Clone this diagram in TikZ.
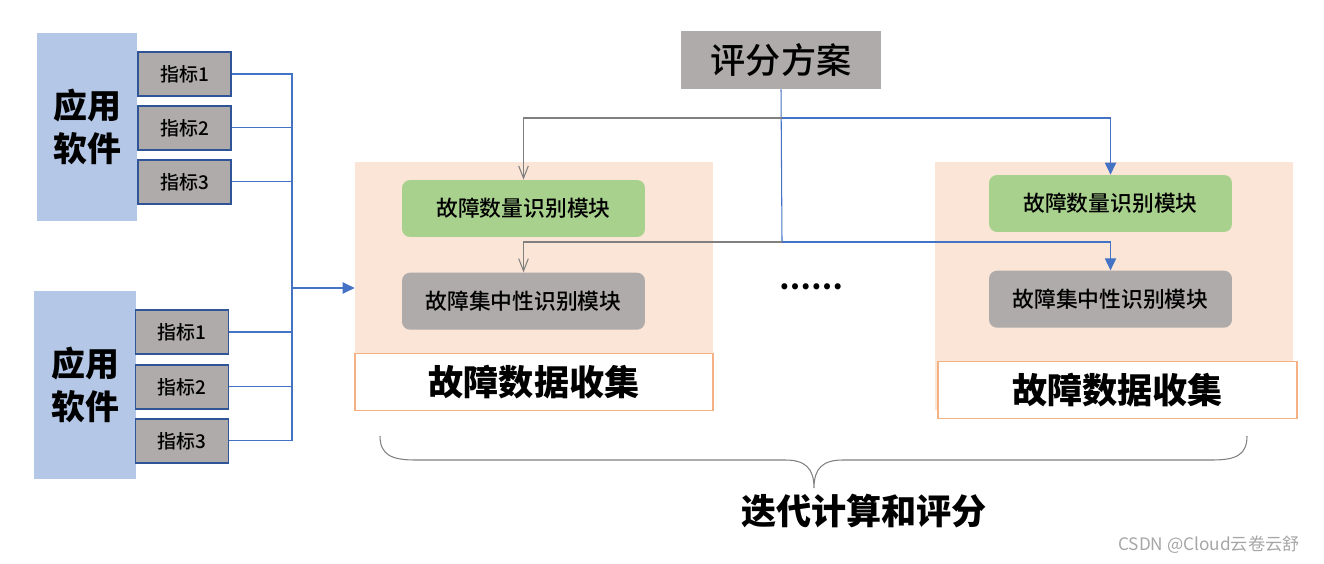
\documentclass[tikz,border=0pt]{standalone}
\usepackage{fontspec}
\setmainfont{Noto Sans CJK SC}
\newfontfamily\medfont{Noto Sans CJK SC Medium}
\usepackage{tikz}
\usetikzlibrary{positioning, arrows.meta}
\definecolor{appblue}{HTML}{B4C7E7}
\definecolor{boxgray}{HTML}{AFABAB}
\definecolor{indborder}{HTML}{2F5597}
\definecolor{linkblue}{HTML}{4472C4}
\definecolor{panelorange}{HTML}{FBE5D6}
\definecolor{edgeorange}{HTML}{F4B183}
\definecolor{modgreen}{HTML}{A9D18E}
\tikzset{
  app/.style={fill=appblue, minimum width=2cm, minimum height=3.76cm, align=center,
    font=\fontsize{19.3}{24.4}\selectfont\bfseries},
  ind/.style={draw=indborder, line width=1.1pt, fill=boxgray, minimum width=1.86cm,
    minimum height=0.88cm, font=\fontsize{10.8}{13}\selectfont\medfont},
  panel/.style={fill=panelorange, minimum width=7.16cm},
  collect/.style={draw=edgeorange, line width=0.85pt, fill=white, minimum width=7.16cm,
    minimum height=1.14cm, font=\fontsize{20}{24}\selectfont\bfseries},
  module/.style={rounded corners=0.16cm, minimum width=4.86cm, minimum height=1.14cm,
    font=\fontsize{12.4}{15}\selectfont\medfont},
  link/.style={draw=linkblue, line width=0.6pt},
  bluearrow/.style={link, -{Triangle[length=6.8pt, width=6.4pt]}},
  grayarrow/.style={draw=gray, line width=0.6pt, -{Straight Barb[length=7pt, width=5.5pt]}}
}

\begin{document}
\begin{tikzpicture}[x=0.02cm, y=-0.02cm]
\useasboundingbox (0,0) rectangle (1324,564);

% applications and indicators
\node[app] (app1) at (87,127) {应用\\软件};
\node[app, minimum width=2.04cm] (app2) at (85,385) {应用\\软件};
\node[ind] (i11) at (184.5,74) {指标1};
\node[ind, below=0.16cm of i11] (i12) {指标2};
\node[ind, below=0.16cm of i12] (i13) {指标3};
\node[ind] (i21) at (182,332) {指标1};
\node[ind, below=0.18cm of i21] (i22) {指标2};
\node[ind, below=0.16cm of i22] (i23) {指标3};

% fault data panels
\node[panel, minimum height=3.82cm] (pan1) at (534,257.5) {};
\node[panel, minimum height=4.96cm] (pan2) at (1114,286) {};
\node[collect] (col1) at (534,382) {故障数据收集};
\node[collect, minimum width=7.18cm] (col2) at (1117.5,390) {故障数据收集};
\node[module, fill=modgreen] (g1) at (523.5,208.5) {故障数量识别模块};
\node[module, fill=boxgray, below=0.7cm of g1] (c1) {故障集中性识别模块};
\node[module, fill=modgreen] (g2) at (1110.5,203.5) {故障数量识别模块};
\node[module, fill=boxgray, below=0.76cm of g2] (c2) {故障集中性识别模块};
\node[font=\fontsize{16}{18}\selectfont\bfseries] (dots) at (811,287) {……};

% scoring
\node[fill=boxgray, minimum width=4cm, minimum height=1.16cm,
  font=\fontsize{20}{24}\selectfont\medfont] (pf) at (781,60) {评分方案};
\coordinate (t1) at (782,118);
\coordinate (t2) at (782,242);
\coordinate (jn) at (292,288);

% connectors
\draw[link] (i11.east) -| (jn);
\draw[link] (i12.east) -| (jn);
\draw[link] (i13.east) -| (jn);
\draw[link] (i21.east) -| (jn);
\draw[link] (i22.east) -| (jn);
\draw[link] (i23.east) -| (jn);
\draw[bluearrow] (jn) -- (jn -| pan1.west);
\draw[link] (pf.south) -- (t2);
\draw[grayarrow] (t1) -| (g1.north);
\draw[grayarrow] (t2) -| (c1.north);
\draw[bluearrow] (t1) -| (g2.north);
\draw[bluearrow] (t2) -| (c2.north);

% brace
\draw[gray, line width=0.6pt] (380,436) .. controls (380,455) and (392,460) .. (415,460)
  -- (785,460) .. controls (805,460) and (814,468) .. (814,488)
  .. controls (814,468) and (823,460) .. (843,460)
  -- (1212,460) .. controls (1236,460) and (1247,455) .. (1247,436);
\node[font=\fontsize{20}{24}\selectfont\bfseries] (iter) at (864,511) {迭代计算和评分};
\node[font=\fontsize{9.8}{12}\selectfont, text=gray!70] (mark) at (1209,545) {CSDN @Cloud云卷云舒};
\end{tikzpicture}
\end{document}
